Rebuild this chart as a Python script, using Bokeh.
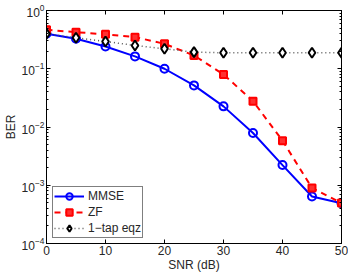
from bokeh.plotting import figure
from bokeh.models import (LinearAxis, LogAxis, Range1d, FixedTicker, Legend, LegendItem,
                          CustomJSTickFormatter, LogTicker, LogTickFormatter)
from bokeh.embed import file_html
from bokeh.resources import INLINE

snr_db = [0, 5, 10, 15, 20, 25, 30, 35, 40, 45, 50]
ber_mmse = [0.40, 0.327, 0.241, 0.163, 0.100, 0.0518, 0.0226, 0.0079, 0.00222, 0.00064, 0.00049]
ber_zf = [0.467, 0.425, 0.390, 0.349, 0.268, 0.169, 0.0798, 0.0278, 0.00582, 0.000897, 0.000495]
ber_1tap = [0.40, 0.34, 0.294, 0.251, 0.220, 0.193, 0.188, 0.188, 0.188, 0.188, 0.188]
x_ticks = [0, 10, 20, 30, 40, 50]

FONT = "Liberation Sans"

p = figure(width=348, height=274, y_axis_type="log", output_backend="svg",
           toolbar_location=None, x_range=Range1d(0, 50), y_range=Range1d(1e-4, 1),
           min_border_left=45, min_border_right=7, min_border_top=10, min_border_bottom=30)
p.xgrid.visible = False
p.ygrid.visible = False
p.outline_line_color = "black"
p.outline_line_width = 1
p.background_fill_color = "white"
p.border_fill_color = "white"

blank_fmt = CustomJSTickFormatter(code="return '';")

def style(ax):
    ax.major_tick_in = 4
    ax.major_tick_out = 0
    ax.minor_tick_in = 2
    ax.minor_tick_out = 0
    ax.axis_line_color = "black"
    ax.major_label_text_font = FONT
    ax.major_label_text_font_size = "12px"
    ax.major_label_text_color = "#262626"
    ax.axis_label_text_font = FONT
    ax.axis_label_text_font_size = "12px"
    ax.axis_label_text_font_style = "normal"
    ax.axis_label_text_color = "#262626"

xa = p.xaxis[0]
xa.ticker = FixedTicker(ticks=x_ticks)
xa.axis_label = "SNR (dB)"
style(xa)
xa.axis_label_standoff = 0
xa.major_label_standoff = 2

ya = p.yaxis[0]
ya.ticker = LogTicker(desired_num_ticks=5, num_minor_ticks=10)
ya.formatter = LogTickFormatter(min_exponent=0)
ya.axis_label = "BER"
style(ya)
ya.axis_label_standoff = 1
ya.major_label_standoff = 2

top = LinearAxis(ticker=FixedTicker(ticks=x_ticks), formatter=blank_fmt)
style(top)
top.major_label_standoff = 0
p.add_layout(top, "above")
right = LogAxis(ticker=LogTicker(desired_num_ticks=5, num_minor_ticks=10), formatter=blank_fmt)
style(right)
right.major_label_standoff = 0
p.add_layout(right, "right")

l1 = p.line(snr_db, ber_mmse, line_color="#0000ff", line_width=2)
m1 = p.scatter(snr_db, ber_mmse, marker="circle", size=8, line_color="#0000ff",
               fill_color="white", fill_alpha=0, line_width=2)
l2 = p.line(snr_db, ber_zf, line_color="#ff0000", line_width=2, line_dash="6 5")
m2 = p.scatter(snr_db, ber_zf, marker="square", size=7, line_color="#ff0000",
               fill_color="#ff3030", line_width=2)
l3 = p.line(snr_db, ber_1tap, line_color="#555555", line_width=1.5, line_dash="1 3")
m3 = p.scatter(snr_db, ber_1tap, marker="diamond", size=10, line_color="black",
               fill_color="white", line_width=2)

legend = Legend(items=[LegendItem(label="MMSE", renderers=[l1, m1]),
                       LegendItem(label="ZF", renderers=[l2, m2]),
                       LegendItem(label="1\u2212tap eqz", renderers=[l3, m3])],
                location=(6, 5))
legend.border_line_color = "black"
legend.border_line_width = 1
legend.background_fill_color = "white"
legend.background_fill_alpha = 1
legend.label_text_font = FONT
legend.label_text_font_size = "12px"
legend.label_text_color = "#262626"
legend.glyph_width = 30
legend.glyph_height = 16
legend.label_height = 16
legend.spacing = 0
legend.padding = 1
legend.margin = 0
legend.label_standoff = 4
p.add_layout(legend, "center")

open("out.html", "w").write(file_html(p, INLINE))
